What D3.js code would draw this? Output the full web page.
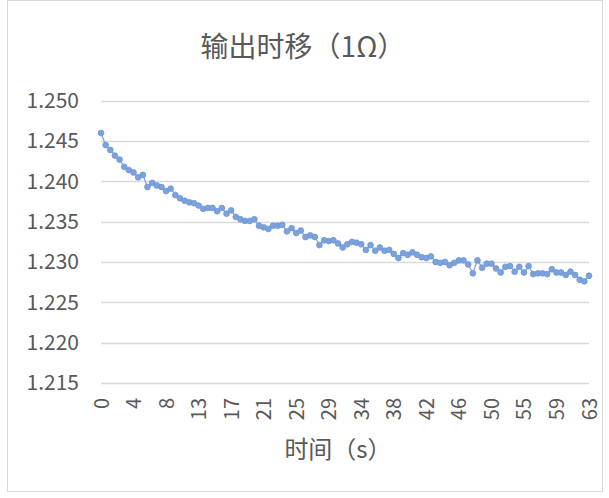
<!DOCTYPE html>
<html>
<head>
<meta charset="utf-8">
<script src="https://cdn.jsdelivr.net/npm/d3@7"></script>
<style>
  html, body { margin: 0; padding: 0; background: #fff; }
  svg { display: block; }
  text { font-family: "Noto Sans CJK SC", "Noto Sans", sans-serif; fill: #595959; }
</style>
</head>
<body>
<svg id="chart" width="609" height="498"></svg>
<script>
// ---- data ----
const title = "输出时移（1Ω）";
const xTitle = "时间（s）";
const timeStep = 0.6; // seconds between samples
const values = [
  1.2460, 1.2445, 1.2439, 1.2432, 1.2427, 1.2418, 1.2414, 1.2411, 1.2405, 1.2408,
  1.2393, 1.2398, 1.2395, 1.2393, 1.2388, 1.2391, 1.2383, 1.2379, 1.2376, 1.2374,
  1.2373, 1.2370, 1.2366, 1.2367, 1.2367, 1.2363, 1.2367, 1.2360, 1.2364, 1.2356,
  1.2353, 1.2351, 1.2351, 1.2353, 1.2345, 1.2343, 1.2341, 1.2345, 1.2345, 1.2346,
  1.2338, 1.2342, 1.2336, 1.2339, 1.2331, 1.2333, 1.2331, 1.2321, 1.2327, 1.2326,
  1.2327, 1.2323, 1.2318, 1.2322, 1.2325, 1.2324, 1.2322, 1.2315, 1.2321, 1.2314,
  1.2318, 1.2314, 1.2315, 1.2310, 1.2305, 1.2311, 1.2309, 1.2312, 1.2309, 1.2306,
  1.2305, 1.2307, 1.2300, 1.2299, 1.2300, 1.2296, 1.2299, 1.2302, 1.2302, 1.2297,
  1.2286, 1.2302, 1.2293, 1.2298, 1.2298, 1.2292, 1.2287, 1.2294, 1.2295, 1.2288,
  1.2294, 1.2287, 1.2295, 1.2285, 1.2286, 1.2286, 1.2285, 1.2291, 1.2287, 1.2287,
  1.2284, 1.2288, 1.2284, 1.2278, 1.2276, 1.2283
];
const xTickIndices = [0, 7, 14, 21, 28, 35, 42, 49, 56, 63, 70, 77, 84, 91, 98, 105];
const xTickLabels = ["0","4","8","13","17","21","25","29","34","38","42","46","50","55","59","63"];
const yTicks = [1.215, 1.220, 1.225, 1.230, 1.235, 1.240, 1.245, 1.250];

// ---- drawing ----
const svg = d3.select("#chart");
const plot = { left: 101, right: 589, top: 100.7, bottom: 383 };

// chart area border
svg.append("rect")
  .attr("x", 7.5).attr("y", 0.5).attr("width", 595).attr("height", 491)
  .attr("fill", "#fff").attr("stroke", "#d9d9d9").attr("stroke-width", 1);

const x = d3.scaleLinear().domain([0, values.length - 1]).range([plot.left, plot.right]);
const y = d3.scaleLinear().domain([1.215, 1.250]).range([plot.bottom, plot.top]);

// gridlines
svg.append("g").selectAll("line").data(yTicks.slice(1)).join("line")
  .attr("x1", plot.left).attr("x2", plot.right)
  .attr("y1", d => Math.round(y(d)) + 0.5).attr("y2", d => Math.round(y(d)) + 0.5)
  .attr("stroke", "#d9d9d9").attr("stroke-width", 1.3);

// y axis labels
const yAxis = d3.axisLeft(y).tickValues(yTicks).tickFormat(d3.format(".3f")).tickSize(0).tickPadding(22);
const gy = svg.append("g").attr("transform", `translate(${plot.left},0)`).call(yAxis);
gy.select(".domain").remove();
gy.selectAll("text").attr("font-size", 21).attr("fill", "#595959")
  .style("font-family", "'Noto Sans CJK SC', sans-serif");

// x axis line
svg.append("line")
  .attr("x1", plot.left).attr("x2", plot.right)
  .attr("y1", Math.round(plot.bottom) + 0.5).attr("y2", Math.round(plot.bottom) + 0.5)
  .attr("stroke", "#d9d9d9").attr("stroke-width", 1.3);

// x tick labels (rotated)
const labelMap = new Map(xTickIndices.map((d, i) => [d, xTickLabels[i]]));
const xAxis = d3.axisBottom(x).tickValues(xTickIndices).tickFormat(d => labelMap.get(d)).tickSize(0);
const gx = svg.append("g").attr("transform", `translate(0,${plot.bottom})`).call(xAxis);
gx.select(".domain").remove();
gx.selectAll("text")
  .attr("font-size", 20).attr("fill", "#595959")
  .style("font-family", "'Noto Sans CJK SC', sans-serif")
  .attr("text-anchor", "end")
  .attr("transform", "rotate(-90)")
  .attr("x", -15).attr("y", 0).attr("dy", "0.35em");

// line
const line = d3.line().x((d, i) => x(i)).y(d => y(d));
svg.append("path").datum(values)
  .attr("d", line).attr("fill", "none")
  .attr("stroke", "#7ba2dc").attr("stroke-width", 1.2);

// markers
svg.append("g").selectAll("circle").data(values).join("circle")
  .attr("cx", (d, i) => x(i)).attr("cy", d => y(d)).attr("r", 2.9)
  .attr("fill", "#7ba2dc").attr("stroke", "#6e97d6").attr("stroke-width", 0.8);

// title
svg.append("text").attr("x", 303).attr("y", 57)
  .attr("text-anchor", "middle").attr("font-size", 28).attr("fill", "#595959")
  .text(title);

// x axis title
svg.append("text").attr("x", 338).attr("y", 458)
  .attr("text-anchor", "middle").attr("font-size", 24).attr("fill", "#595959")
  .text(xTitle);
</script>
</body>
</html>
